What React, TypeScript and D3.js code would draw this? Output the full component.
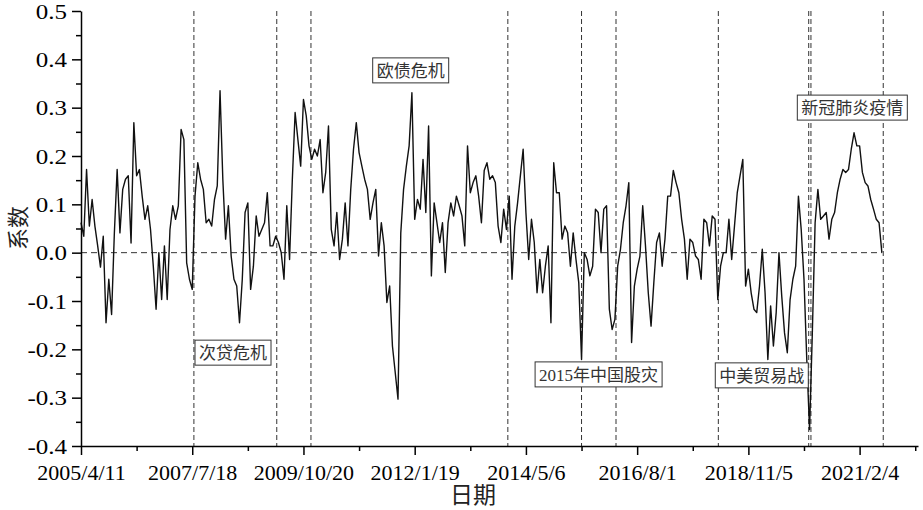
import React, { useEffect, useRef } from "react";
import * as d3 from "d3";

// coefficient series, 40 samples per labelled date interval
const coef: number[] = [
  // 2005/4/11 ->
  0.062, 0.034, 0.172, 0.055, 0.110, 0.055, 0.014, -0.030, 0.034, -0.145, -0.055, -0.128,
  0.041, 0.172, 0.041, 0.131, 0.152, 0.159, 0.020, 0.269, 0.159, 0.172, 0.117, 0.069,
  0.097, 0.048, -0.028, -0.117, 0.000, -0.097, 0.014, -0.097, 0.048, 0.097, 0.069, 0.097,
  // ~2007
  0.255, 0.234, -0.021, -0.055, -0.076, 0.117, 0.186, 0.152, 0.131, 0.062, 0.069, 0.055,
  0.110, 0.138, 0.335, 0.152, 0.028, 0.097, -0.007, -0.055, -0.069, -0.145, -0.055, 0.083,
  0.103, -0.076, -0.028, 0.076, 0.034, 0.048, 0.062, 0.124, 0.014, 0.014, 0.034, 0.021,
  // ~2009
  0.000, -0.055, 0.097, -0.014, 0.152, 0.290, 0.234, 0.179, 0.317, 0.283, 0.221, 0.193,
  0.214, 0.200, 0.234, 0.124, 0.166, 0.262, 0.048, 0.014, 0.083, -0.014, 0.028, 0.103,
  0.014, 0.131, 0.214, 0.269, 0.207, 0.179, 0.152, 0.131, 0.069, 0.103, 0.131, -0.007,
  // ~2011
  0.062, 0.014, -0.103, -0.069, -0.193, -0.248, -0.303, 0.041, 0.131, 0.179, 0.221, 0.331,
  0.069, 0.110, 0.090, 0.193, 0.083, 0.262, -0.048, 0.103, 0.062, 0.021, 0.062, -0.041,
  0.062, 0.103, 0.076, 0.117, 0.097, 0.076, 0.014, 0.221, 0.124, 0.145, 0.159, 0.117,
  // ~2013
  0.062, 0.170, 0.186, 0.152, 0.159, 0.145, 0.055, 0.021, 0.090, 0.048, 0.117, -0.055,
  0.055, 0.103, 0.159, 0.214, 0.083, -0.014, 0.069, 0.021, -0.083, -0.014, -0.083, -0.028,
  0.014, -0.145, 0.186, 0.124, 0.124, 0.028, 0.055, 0.041, -0.028, 0.041, -0.014, -0.062,
  // ~2015
  -0.221, 0.000, -0.014, -0.048, -0.028, 0.090, 0.083, 0.000, 0.090, 0.097, -0.117, -0.159,
  -0.138, -0.028, 0.007, 0.062, 0.097, 0.145, -0.186, -0.069, -0.034, -0.007, 0.097, 0.014,
  -0.083, -0.152, -0.062, 0.021, 0.041, -0.028, 0.028, 0.117, 0.117, 0.170, 0.145, 0.124,
  // ~2017
  0.069, 0.028, -0.055, 0.028, 0.021, -0.007, -0.014, -0.055, 0.069, 0.062, 0.014, 0.076,
  0.069, -0.097, -0.028, 0.000, 0.000, 0.069, -0.014, 0.055, 0.124, 0.159, 0.193, -0.069,
  -0.034, -0.083, -0.117, -0.124, -0.069, 0.007, -0.083, -0.221, -0.110, -0.193, -0.124, 0.000,
  // ~2019 -> end
  -0.090, -0.166, -0.207, -0.097, -0.055, -0.028, 0.117, 0.048, -0.055, -0.221, -0.366, -0.166,
  0.062, 0.131, 0.069, 0.076, 0.083, 0.028, 0.069, 0.083, 0.124, 0.152, 0.172, 0.166,
  0.172, 0.214, 0.248, 0.221, 0.221, 0.166, 0.145, 0.138, 0.110, 0.090, 0.069, 0.062, 0.000,
];

const xTickLabels = ["2005/4/11", "2007/7/18", "2009/10/20", "2012/1/19", "2014/5/6", "2016/8/1", "2018/11/5", "2021/2/4"];
const xStep = 40; // samples between labelled dates
const yTickValues = [-0.4, -0.3, -0.2, -0.1, 0, 0.1, 0.2, 0.3, 0.4, 0.5];
const yTickLabels = ["-0.4", "-0.3", "-0.2", "-0.1", "0.0", "0.1", "0.2", "0.3", "0.4", "0.5"];

// event markers (sample index)
const eventIdx = [40.6, 70.4, 82.7, 153.5, 180.0, 192.4, 229.2, 261.7, 262.5, 288.5];

// event notes: box top-left in data units
const noteText = ["次贷危机", "欧债危机", "2015年中国股灾", "中美贸易战", "新冠肺炎疫情"];
const noteIdx = [41.0, 104.9, 163.3, 228.1, 257.6];
const noteTop = [-0.181, 0.403, -0.226, -0.228, 0.326];

const App: React.FC = () => {
  const svgRef = useRef<SVGSVGElement>(null);

  useEffect(() => {
    const width = 923;
    const height = 510;
    const m = { left: 81, right: 918, top: 11, bottom: 446 };
    const serif = '"Liberation Serif", "Times New Roman", serif';
    const cjk = '"Noto Sans CJK SC", "Noto Sans", sans-serif';

    const svg = d3.select(svgRef.current).attr("width", width).attr("height", height);
    svg.selectAll("*").remove();

    const x = d3.scaleLinear().domain([0, 301]).range([m.left, m.right]);
    const y = d3.scaleLinear().domain([-0.4, 0.5]).range([m.bottom, m.top]);

    // zero reference line
    svg.append("line")
      .attr("x1", x(0)).attr("x2", x(coef.length - 1))
      .attr("y1", y(0)).attr("y2", y(0))
      .attr("stroke", "#333").attr("stroke-width", 1)
      .attr("stroke-dasharray", "6,4");

    // event lines
    svg.append("g").selectAll("line")
      .data(eventIdx)
      .join("line")
      .attr("x1", (d) => x(d)).attr("x2", (d) => x(d))
      .attr("y1", y(0.5)).attr("y2", y(-0.4))
      .attr("stroke", "#333").attr("stroke-width", 1)
      .attr("stroke-dasharray", "5,3");

    // series
    const line = d3.line<number>().x((_, i) => x(i)).y((d) => y(d));
    svg.append("path")
      .datum(coef)
      .attr("d", line)
      .attr("fill", "none")
      .attr("stroke", "#111")
      .attr("stroke-width", 1.4)
      .attr("stroke-linejoin", "round");

    // x axis: minor then major ticks
    const xg = svg.append("g").attr("transform", `translate(0,${m.bottom})`);
    xg.append("g")
      .call(d3.axisBottom(x).tickValues(d3.range(xStep / 2, 301, xStep)).tickSize(5).tickSizeOuter(0).tickFormat(() => ""))
      .call((g) => g.select(".domain").remove());
    xg.append("g")
      .call(
        d3.axisBottom(x)
          .tickValues(xTickLabels.map((_, i) => i * xStep))
          .tickSize(9)
          .tickSizeOuter(0)
          .tickFormat((_, i) => xTickLabels[i])
      );
    xg.selectAll("line").attr("stroke", "#000").attr("stroke-width", 1.5);
    xg.selectAll(".domain").attr("stroke", "#000").attr("stroke-width", 1.5);
    xg.selectAll("text")
      .attr("y", 18)
      .attr("fill", "#000")
      .style("font-family", serif)
      .style("font-size", "22px");

    // y axis
    const yg = svg.append("g").attr("transform", `translate(${m.left},0)`);
    yg.append("g")
      .call(d3.axisLeft(y).tickValues(d3.range(-0.35, 0.5, 0.1)).tickSize(5).tickSizeOuter(0).tickFormat(() => ""))
      .call((g) => g.select(".domain").remove());
    yg.append("g")
      .call(
        d3.axisLeft(y)
          .tickValues(yTickValues)
          .tickSize(9)
          .tickSizeOuter(0)
          .tickFormat((_, i) => yTickLabels[i])
      );
    yg.selectAll("line").attr("stroke", "#000").attr("stroke-width", 1.5);
    yg.selectAll(".domain").attr("stroke", "#000").attr("stroke-width", 1.5);
    yg.selectAll("text")
      .attr("x", -11.2)
      .attr("dy", "0.36em")
      .attr("transform", "scale(1.25,1)")
      .attr("fill", "#000")
      .style("font-family", serif)
      .style("font-size", "20px");

    // axis titles
    svg.append("text")
      .attr("x", 473).attr("y", 503)
      .attr("text-anchor", "middle")
      .attr("fill", "#222")
      .style("font-family", cjk)
      .style("font-size", "23px")
      .text("日期");
    svg.append("text")
      .attr("transform", "translate(26,228) rotate(-90)")
      .attr("text-anchor", "middle")
      .attr("fill", "#222")
      .style("font-family", cjk)
      .style("font-size", "22px")
      .text("系数");

    // event notes
    noteText.forEach((t, i) => {
      const g = svg.append("g").attr("transform", `translate(${x(noteIdx[i])},${y(noteTop[i])})`);
      const rect = g.append("rect").attr("height", 25).attr("fill", "#fff").attr("stroke", "#333").attr("stroke-width", 1);
      const txt = g.append("text")
        .attr("x", 4).attr("y", 19)
        .attr("fill", "#333")
        .style("font-family", `"Liberation Serif", "Noto Sans CJK SC", serif`)
        .style("font-size", "17px")
        .text(t);
      const w = (txt.node() as SVGTextElement).getComputedTextLength();
      rect.attr("width", w + 8);
    });

    return () => {
      svg.selectAll("*").remove();
    };
  }, []);

  return <svg ref={svgRef} style={{ position: "absolute", left: 0, top: 0, background: "#fff" }}></svg>;
};

export default App;
